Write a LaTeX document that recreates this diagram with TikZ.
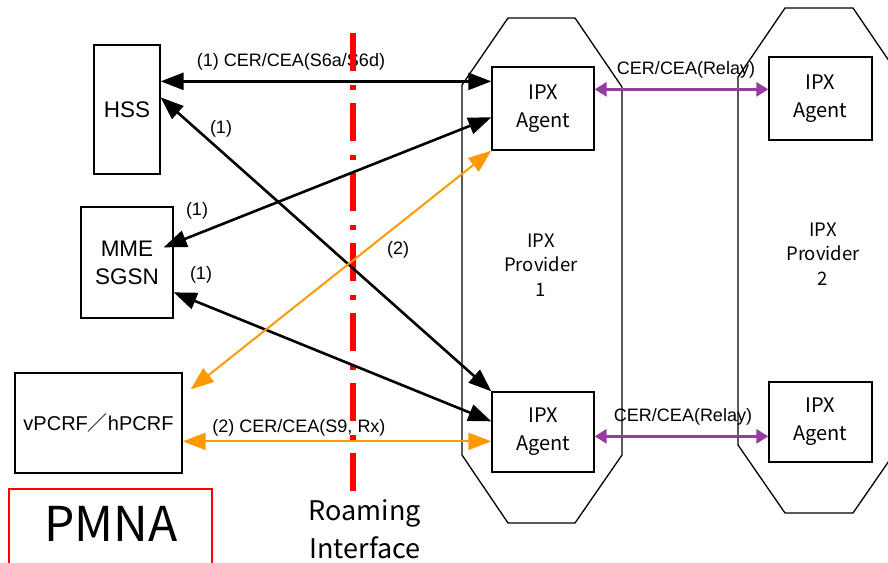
\documentclass[tikz,border=0pt]{standalone}
\usepackage{fontspec}
\setmainfont{Liberation Sans}
\newfontfamily\cjk{Noto Sans CJK JP}
\usetikzlibrary{arrows.meta}
\definecolor{ipxorange}{RGB}{255,153,0}
\definecolor{ipxpurple}{RGB}{150,60,160}
\definecolor{roamred}{RGB}{255,0,0}
\begin{document}
\begin{tikzpicture}[x=1pt,y=-1pt,
  box/.style={draw=black, line width=1.3pt, fill=white, inner sep=0pt, align=center},
  blk/.style={draw=black, line width=2.6pt, {Triangle[length=23pt,width=17pt]}-{Triangle[length=23pt,width=17pt]}},
  org/.style={draw=ipxorange, line width=2pt, {Triangle[length=23pt,width=17pt]}-{Triangle[length=23pt,width=17pt]}},
  prp/.style={draw=ipxpurple, line width=3.5pt, {Triangle[length=12pt,width=14pt]}-{Triangle[length=12pt,width=14pt]}},
  lbl/.style={font=\fontsize{18}{20}\selectfont, inner sep=0pt},
  big/.style={font=\fontsize{22.5}{28}\selectfont, align=center},
  agt/.style={box, font=\cjk\fontsize{20}{28}\selectfont},
  prov/.style={draw=black, line width=1.3pt},
  provtxt/.style={font=\cjk\fontsize{18.5}{24.5}\selectfont, align=center, inner sep=0pt},
]
\useasboundingbox (0,0) rectangle (888,562);
\clip (0,0) rectangle (888,562);

% IPX providers
\draw[prov] (508,18) -- (575,18) -- (622,87) -- (622,455) -- (575,523) -- (508,523) -- (462,455) -- (462,85) -- cycle;
\draw[prov] (785,8) -- (853,8) -- (900,77) -- (900,445) -- (853,513) -- (785,513) -- (738,445) -- (738,77) -- cycle;
\node[provtxt] (p1) at (541,265) {IPX\\Provider\\1};
\node[provtxt] (p2) at (823,254) {IPX\\Provider\\2};

% boxes
\node[box, big, minimum width=66pt, minimum height=129pt] (hss) at (127,109.5) {\raisebox{-3pt}{HSS}};
\node[box, big, minimum width=92pt, minimum height=111pt] (mme) at (127,262.5) {MME\\SGSN};
\node[box, font=\fontsize{20}{24}\selectfont, minimum width=167pt, minimum height=100pt] (vpcrf) at (98.5,423) {vPCRF{\cjk ／}hPCRF};
\node[agt, minimum width=102pt, minimum height=83pt] (a1) at (543,108.5) {IPX\\Agent};
\node[agt, minimum width=102pt, minimum height=80pt] (a2) at (543,432) {IPX\\Agent};
\node[agt, minimum width=103pt, minimum height=83pt] (a3) at (820.5,98.5) {IPX\\Agent};
\node[agt, minimum width=103pt, minimum height=80pt] (a4) at (820.5,422) {IPX\\Agent};
\node[draw=roamred, line width=1.2pt, inner sep=0pt, minimum width=203pt, minimum height=76pt] (pmna) at (110.5,527) {};
\node[font=\cjk\fontsize{48}{50}\selectfont, inner sep=0pt] (pmnatxt) at (111,524) {PMNA};
\node[font=\cjk\fontsize{27}{38}\selectfont, align=center, inner sep=0pt] (roam) at (365,529) {Roaming\\Interface};

% labels
\node[lbl] (l1) at (291,62) {(1) CER/CEA(S6a/S6d)};
\node[lbl] (l2) at (221,129) {(1)};
\node[lbl] (l3) at (197,211) {(1)};
\node[lbl] (l4) at (201,275) {(1)};
\node[lbl] (l5) at (398,250) {(2)};
\node[lbl] (l6) at (299,428) {(2) CER/CEA(S9, Rx)};
\node[lbl] (l7) at (686,70) {CER/CEA(Relay)};
\node[lbl] (l8) at (683,417) {CER/CEA(Relay)};

% roaming interface line
\coordinate (rtop) at (353,33);
\coordinate (rbot) at (353,493);
\draw[roamred, line width=6pt, dash pattern=on 38pt off 14pt on 5pt off 13pt] (rtop) -- (rbot);

% connectors
\draw[blk] ([yshift=-37pt]hss.north east) -- ([yshift=-15pt]a1.north west);
\draw[blk] ([yshift=-53pt]hss.north east) -- (a2.north west);
\draw[blk] ([xshift=-10pt,yshift=-41pt]mme.north east) -- ([yshift=-51pt]a1.north west);
\draw[blk] ([yshift=-86pt]mme.north east) -- ([yshift=-30pt]a2.north west);
\draw[org] ([xshift=8pt,yshift=-17pt]vpcrf.north east) -- (a1.south west);
\draw[org] ([yshift=-69pt]vpcrf.north east) -- ([yshift=-50pt]a2.north west);
\draw[prp] ([yshift=-23pt]a1.north east) -- ([yshift=-33pt]a3.north west);
\draw[prp] ([yshift=-45pt]a2.north east) -- ([yshift=-55pt]a4.north west);
\end{tikzpicture}
\end{document}
